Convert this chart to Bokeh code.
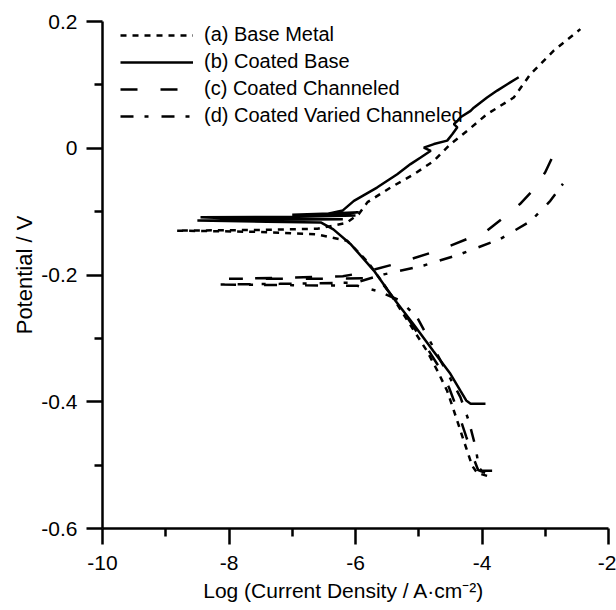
from bokeh.plotting import figure
from bokeh.models import FixedTicker, Legend, LegendItem
from bokeh.embed import file_html
from bokeh.resources import INLINE

# ---- data (log current density, potential) ----
base_x = [-3.92, -4.08, -4.155, -4.29, -4.445, -4.55, -4.70, -4.87, -5.10, -5.35, -5.55, -5.80, -6.13,
          -6.6, -7.5, -8.83, -7.6, -6.6, -6.15, -5.95, -5.81, -5.445, -5.077, -4.761, -4.498, -4.234,
          -3.918, -3.498, -3.234, -2.866, -2.445]
base_y = [-0.517, -0.512, -0.501, -0.461, -0.414, -0.383, -0.352, -0.320, -0.284, -0.245, -0.215, -0.180, -0.146,
          -0.136, -0.132, -0.130, -0.129, -0.127, -0.118, -0.104, -0.085, -0.062, -0.041, -0.020, 0.0066, 0.0275,
          0.054, 0.080, 0.117, 0.154, 0.188]

coated_x = [-3.945, -4.18, -4.25, -4.34, -4.50, -4.77, -5.08, -5.39, -5.71, -6.08, -6.35, -6.55,
            -7.4, -8.5, -7.2, -6.2, -7.9, -8.45, -6.9, -6.0, -7.0, -6.4, -5.95, -6.6,
            -6.2, -6.025, -5.66, -5.34, -5.13, -4.97, -4.81, -4.92, -4.76, -4.55, -4.47, -4.39,
            -4.445, -4.39, -4.34, -4.18, -4.13, -3.92, -3.76, -3.60, -3.42]
coated_y = [-0.403, -0.403, -0.398, -0.383, -0.356, -0.320, -0.278, -0.238, -0.193, -0.151, -0.128, -0.117,
            -0.116, -0.114, -0.113, -0.112, -0.111, -0.109, -0.108, -0.106, -0.105, -0.103, -0.101, -0.107,
            -0.098, -0.083, -0.062, -0.041, -0.025, -0.0146, -0.004, 0.001, 0.0066, 0.012, 0.022, 0.033,
            0.038, 0.043, 0.049, 0.059, 0.064, 0.080, 0.091, 0.101, 0.112]

chan_x = [-3.95, -4.06, -4.13, -4.25, -4.40, -4.52, -4.68, -4.87, -5.10, -5.35, -5.60, -5.75,
          -6.5, -8.0, -7.0, -6.2, -5.87, -5.39, -4.71, -4.23, -3.92, -3.63, -3.40, -3.23, -3.0, -2.84]
chan_y = [-0.512, -0.508, -0.490, -0.455, -0.410, -0.378, -0.345, -0.315, -0.279, -0.243, -0.210, -0.205,
          -0.206, -0.206, -0.204, -0.202, -0.196, -0.183, -0.162, -0.143, -0.130, -0.107, -0.088, -0.070, -0.038, -0.004]

varied_x = [-3.84, -4.0, -4.05, -4.10, -4.21, -4.34, -4.655, -5.025, -5.30, -5.66, -5.97,
            -7.0, -8.2, -7.2, -6.0, -5.55, -4.92, -4.34, -3.71, -3.23, -2.92, -2.72]
varied_y = [-0.509, -0.509, -0.504, -0.472, -0.430, -0.393, -0.335, -0.267, -0.240, -0.225, -0.217,
            -0.216, -0.215, -0.214, -0.212, -0.199, -0.185, -0.167, -0.143, -0.115, -0.083, -0.056]

labels = ["(a) Base Metal", "(b) Coated Base", "(c) Coated Channeled", "(d) Coated Varied Channeled"]

x_ticks = [-10, -8, -6, -4, -2]
x_tick_labels = ["-10", "-8", "-6", "-4", "-2"]
x_minor = [-9, -7, -5, -3]
y_ticks = [-0.6, -0.4, -0.2, 0, 0.2]
y_tick_labels = ["-0.6", "-0.4", "-0.2", "0", "0.2"]
y_minor = [-0.5, -0.3, -0.1, 0.1]

FONT = "Liberation Sans"

p = figure(width=616, height=610, x_range=(-10, -2), y_range=(-0.6, 0.2),
           output_backend="svg", toolbar_location=None,
           min_border_left=102, min_border_right=8, min_border_top=21, min_border_bottom=82)
p.xgrid.visible = False
p.ygrid.visible = False
p.outline_line_color = None
p.background_fill_color = "white"

LW = 2.5
r_a = p.line(base_x, base_y, line_color="black", line_width=LW, line_dash="6 6")
r_b = p.line(coated_x, coated_y, line_color="black", line_width=LW)
r_c = p.line(chan_x, chan_y, line_color="black", line_width=LW, line_dash="17 23")
r_d = p.line(varied_x, varied_y, line_color="black", line_width=LW, line_dash="13 11 4 13")

for ax, ticks, minor, lab in ((p.xaxis, x_ticks, x_minor, x_tick_labels), (p.yaxis, y_ticks, y_minor, y_tick_labels)):
    ax.ticker = FixedTicker(ticks=ticks, minor_ticks=minor)
    ax.major_label_overrides = dict(zip(ticks, lab))
    ax.axis_line_width = LW
    ax.axis_line_color = "black"
    ax.major_tick_line_width = LW
    ax.minor_tick_line_width = LW
    ax.major_tick_line_color = "black"
    ax.minor_tick_line_color = "black"
    ax.major_tick_out = 16
    ax.major_tick_in = 0
    ax.minor_tick_out = 8
    ax.minor_tick_in = 0
    ax.major_label_text_font = FONT
    ax.major_label_text_font_size = "21px"
    ax.major_label_text_color = "black"
    ax.axis_label_text_font = FONT
    ax.axis_label_text_font_style = "normal"
    ax.axis_label_text_color = "black"

p.xaxis.axis_label = "Log (Current Density / A\u00b7cm\u207b\u00b2)" + "\u00a0" * 4
p.yaxis.axis_label = "Potential / V"
p.xaxis.axis_label_text_font_size = "21px"
p.yaxis.axis_label_text_font_size = "22px"
p.xaxis.major_label_standoff = 11
p.xaxis.axis_label_standoff = 6
p.yaxis.major_label_standoff = 9
p.yaxis.axis_label_standoff = 1

legend = Legend(items=[LegendItem(label=labels[0], renderers=[r_a]),
                       LegendItem(label=labels[1], renderers=[r_b]),
                       LegendItem(label=labels[2], renderers=[r_c]),
                       LegendItem(label=labels[3], renderers=[r_d])],
                location=(18, 401), glyph_width=73, glyph_height=20, label_height=20,
                spacing=4, label_standoff=11, padding=0, margin=0,
                border_line_color=None, background_fill_alpha=0,
                label_text_font=FONT, label_text_font_size="20px", label_text_color="black")
p.add_layout(legend)

open("out.html", "w").write(file_html(p, INLINE))
